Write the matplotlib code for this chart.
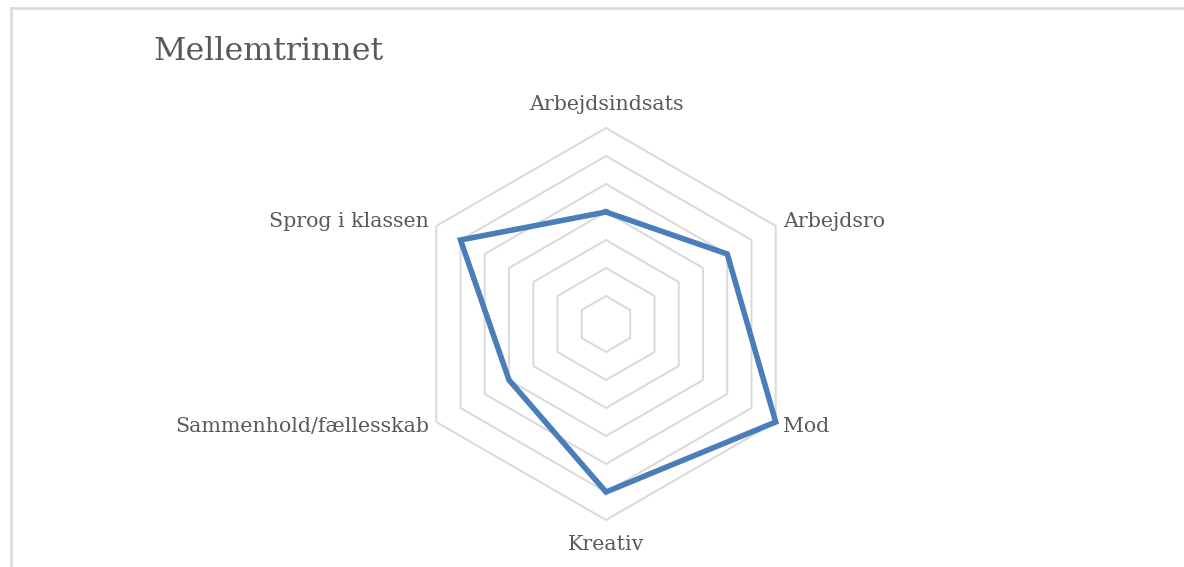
import numpy as np
import matplotlib
matplotlib.use("Agg")
import matplotlib.pyplot as plt

# data (ring units, 7 rings)
categories = ["Arbejdsindsats", "Arbejdsro", "Mod", "Kreativ",
              "Sammenhold/fællesskab", "Sprog i klassen"]
values = [4, 5, 7, 6, 4, 6]
rings = [1, 2, 3, 4, 5, 6, 7]

TXT = "#595959"
GRID = "#d9d9d9"
LINE = "#4a7ebb"
FONT = "DejaVu Serif"

W, H = 1184, 567
fig = plt.figure(figsize=(W / 100, H / 100), dpi=100)

# frame of the chart area
fig.add_artist(plt.Line2D([11 / W, 11 / W], [0, 1 - 8 / H], color=GRID, lw=1.8))
fig.add_artist(plt.Line2D([11 / W, 1], [1 - 8 / H, 1 - 8 / H], color=GRID, lw=1.8))

cx, cy, unit, lim = 606, 324, 28, 8.5
half = unit * lim
ax = fig.add_axes([(cx - half) / W, (H - cy - half) / H, 2 * half / W, 2 * half / H])
ax.set_xlim(-lim, lim)
ax.set_ylim(-lim, lim)
ax.axis("off")

n = len(categories)
theta = np.arange(n) * 2 * np.pi / n
ct = np.append(theta, theta[0])

for r in rings:
    ax.plot(r * np.sin(ct), r * np.cos(ct), color=GRID, lw=1.4, zorder=1)

v = np.append(values, values[0])
ax.plot(v * np.sin(ct), v * np.cos(ct), color=LINE, lw=4,
        solid_joinstyle="miter", zorder=3)

R = max(rings)
offsets = [((0, 17), "center", "center"),
           ((5, 3), "left", "center"),
           ((5, -3), "left", "center"),
           ((0, -18), "center", "center"),
           ((-5, -3), "right", "center"),
           ((-5, 3), "right", "center")]
for lab, t, (off, ha, va) in zip(categories, theta, offsets):
    ax.annotate(lab, (R * np.sin(t), R * np.cos(t)), xytext=off,
                textcoords="offset points", ha=ha, va=va,
                fontsize=14.8, color=TXT, family=FONT)

fig.text(153 / W, 1 - 52 / H, "Mellemtrinnet", fontsize=22.8, color=TXT,
         family=FONT, ha="left", va="center")

fig.savefig("out.png", dpi=100)
